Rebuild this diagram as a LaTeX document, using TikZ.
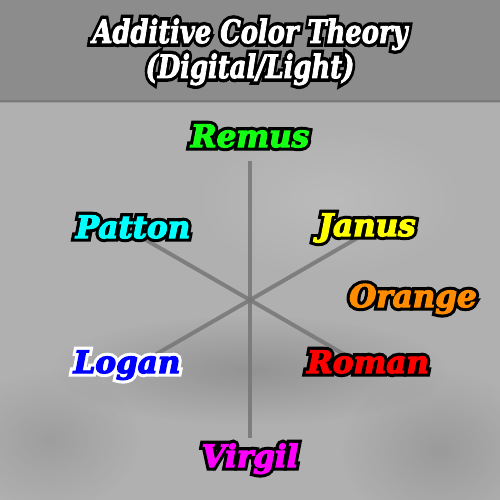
\documentclass[tikz,border=0pt]{standalone}
\usepackage{fontspec}
\setmainfont{DejaVu Serif}
\newfontfamily\lblfont{DejaVu Serif Bold Italic}[FakeBold=4]
\newfontfamily\lblout{DejaVu Serif Bold Italic}[FakeBold=24]
\newfontfamily\ttlfont{DejaVu Serif Bold Italic}[FakeBold=3]
\newfontfamily\ttlout{DejaVu Serif Bold Italic}[FakeBold=24]
\usetikzlibrary{calc,fadings}
\tikzfading[name=softblot,inner color=transparent!0,outer color=transparent!100]
\definecolor{bandgray}{RGB}{140,140,140}
\definecolor{papergray}{RGB}{176,176,176}
\definecolor{linegray}{RGB}{118,118,118}
\definecolor{cremus}{RGB}{20,255,20}
\definecolor{cpatton}{RGB}{0,255,255}
\definecolor{cjanus}{RGB}{255,255,0}
\definecolor{corange}{RGB}{255,140,0}
\definecolor{croman}{RGB}{255,0,0}
\definecolor{clogan}{RGB}{0,0,255}
\definecolor{cvirgil}{RGB}{255,0,255}
\begin{document}
\begin{tikzpicture}[x=1pt,y=-1pt,
  lbl/.style={inner sep=0pt,anchor=base,font=\fontsize{31}{33}\lblfont},
  lblo/.style={inner sep=0pt,anchor=base,text=black,font=\fontsize{31}{33}\lblout},
  ttl/.style={inner sep=0pt,anchor=base,text=white,font=\fontsize{28}{30}\ttlfont},
  ttlo/.style={inner sep=0pt,anchor=base,text=black,font=\fontsize{28}{30}\ttlout},
  spoke/.style={draw=linegray,line width=4pt,opacity=0.85},
  blot/.style={path fading=softblot}]
\useasboundingbox (0,0) rectangle (500,500);
% background
\fill[papergray] (0,0) rectangle (500,500);
\fill[black,opacity=0.16,blot] (250,370) ellipse (200 and 55);
\fill[black,opacity=0.12,blot] (440,450) ellipse (100 and 80);
\fill[black,opacity=0.10,blot] (50,440) ellipse (90 and 70);
\fill[white,opacity=0.14,blot] (330,200) ellipse (140 and 80);
\fill[bandgray] (0,0) rectangle (500,102);
\fill[black,opacity=0.12] (0,100) rectangle (500,103);
% title
\node[ttlo] (t1o) at (250,43) {\scalebox{0.92}[1.15]{Additive Color Theory}};
\node[ttl] (t1) at (250,43) {\scalebox{0.92}[1.15]{Additive Color Theory}};
\node[ttlo] (t2o) at (250,78) {\scalebox{0.92}[1.15]{(Digital/Light)}};
\node[ttl] (t2) at (250,78) {\scalebox{0.92}[1.15]{(Digital/Light)}};
% spokes
\coordinate (c) at (250,300);
\coordinate (top) at (250,161);
\coordinate (bot) at (250,438);
\coordinate (pe) at ($(c)+(-150:124)$);
\coordinate (re) at ($(c)+(30:124)$);
\coordinate (le) at ($(c)+(150:124)$);
\coordinate (je) at ($(c)+(-30:124)$);
\draw[spoke] (top) -- (bot);
\draw[spoke] (pe) -- (re);
\draw[spoke] (le) -- (je);
% labels: outline then fill
\node[lblo] (remuso) at (250,147) {Remus};
\node[lbl,text=cremus] (remus) at (250,147) {Remus};
\node[lblo] (pattono) at (133,238) {Patton};
\node[lbl,text=cpatton] (patton) at (133,238) {Patton};
\node[lblo] (januso) at (367,236) {Janus};
\node[lbl,text=cjanus] (janus) at (367,236) {Janus};
\node[lblo] (orangeo) at (413,307) {Orange};
\node[lbl,text=corange] (orange) at (413,307) {Orange};
\node[lblo] (romano) at (368,373) {Roman};
\node[lbl,text=croman] (roman) at (368,373) {Roman};
\node[lblo,text=white] (logano) at (127,373) {Logan};
\node[lbl,text=clogan] (logan) at (127,373) {Logan};
\node[lblo] (virgilo) at (250,467) {Virgil};
\node[lbl,text=cvirgil] (virgil) at (250,467) {Virgil};
\end{tikzpicture}
\end{document}
